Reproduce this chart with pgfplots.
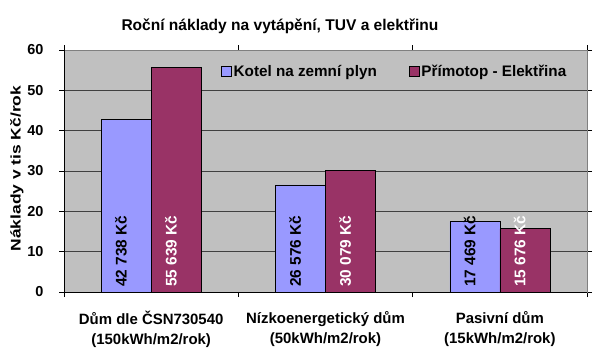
\documentclass[border=0pt]{standalone}
\usepackage{pgfplots}
\pgfplotsset{compat=1.18}
\usepackage{fontspec}
\setmainfont{Liberation Sans}
\definecolor{cblue}{HTML}{9999FF}
\definecolor{cmaroon}{HTML}{993366}
\definecolor{plotgray}{HTML}{C0C0C0}
\definecolor{bordergray}{HTML}{808080}
\pgfplotsset{sqlegend/.style={legend image code/.code={\draw[##1] (0bp,-5bp) rectangle (10bp,5bp);}}}
\begin{document}
\begin{tikzpicture}[x=1bp,y=1bp]
\path[use as bounding box] (0,0) rectangle (600,352);
\node[font=\bfseries\fontsize{15.6}{18}\selectfont, anchor=base] at (280,322) {Roční náklady na vytápění, TUV a elektřinu};
\begin{axis}[
  at={(64bp,60bp)}, anchor=south west,
  scale only axis, width=523bp, height=242bp,
  xmin=-0.5, xmax=2.5, ymin=0, ymax=60,
  ytick={0,10,...,60},
  xtick={0,1,2},
  xticklabels={{Dům dle ČSN730540\\(150kWh/m2/rok)},{Nízkoenergetický dům\\(50kWh/m2/rok)},{Pasivní dům\\(15kWh/m2/rok)}},
  xticklabel style={align=center, font=\bfseries\fontsize{15}{20}\selectfont},
  xticklabel shift=11bp,
  every y tick label/.append style={font=\bfseries\fontsize{14.5}{16}\selectfont, anchor=east, xshift=-12bp},
  /pgf/number format/assume math mode=true,
  major x tick style={draw=none},
  minor xtick={-0.5,0.5,1.5,2.5},
  tick align=outside,
  major tick length=5bp, minor tick length=5bp,
  tick style={black, line width=0.6bp},
  axis background/.style={fill=plotgray},
  axis line style={draw=bordergray, line width=0.8bp},
  ymajorgrids, grid style={black!75, line width=0.6bp},
  ylabel={\scalebox{1.25}[1]{Náklady v tis Kč/rok}},
  ylabel style={font=\bfseries\fontsize{14}{16}\selectfont, at={(axis description cs:-0.090,0.51)}, anchor=center},
  legend style={at={(0.300,0.91)}, anchor=west, draw=none, fill=none, inner sep=0pt,
    font=\bfseries\fontsize{15.3}{18}\selectfont,
    /tikz/every even column/.append style={column sep=30bp}},
  legend columns=2,
  legend cell align=left,
]
\addplot[ybar, bar width=0.287, bar shift=-0.1435, fill=cblue, draw=black, line width=0.6bp, sqlegend]
  coordinates {(0,42.738) (1,26.576) (2,17.469)};
\addlegendentry{Kotel na zemní plyn}
\addplot[ybar, bar width=0.287, bar shift=0.1435, fill=cmaroon, draw=black, line width=0.6bp, sqlegend]
  coordinates {(0,55.639) (1,30.079) (2,15.676)};
\addlegendentry{Přímotop - Elektřina}
\addplot[draw=none, mark=none, forget plot, nodes near coords, point meta=explicit symbolic,
  every node near coord/.style={rotate=90, anchor=west, inner xsep=5bp, inner ysep=0pt, text=black,
    font=\bfseries\fontsize{15.5}{18}\selectfont}]
  coordinates {(-0.1735,0) [42 738 Kč] (0.8265,0) [26 576 Kč] (1.8265,0) [17 469 Kč]};
\addplot[draw=none, mark=none, forget plot, nodes near coords, point meta=explicit symbolic,
  every node near coord/.style={rotate=90, anchor=west, inner xsep=5bp, inner ysep=0pt, text=white,
    font=\bfseries\fontsize{15.5}{18}\selectfont}]
  coordinates {(0.1135,0) [55 639 Kč] (1.1135,0) [30 079 Kč] (2.1135,0) [15 676 Kč]};
\draw[black, line width=0.8bp] (rel axis cs:0,0) -- (rel axis cs:1,0);
\draw[black, line width=0.8bp] (rel axis cs:0,0) -- (rel axis cs:0,1);
\end{axis}
\end{tikzpicture}
\end{document}
